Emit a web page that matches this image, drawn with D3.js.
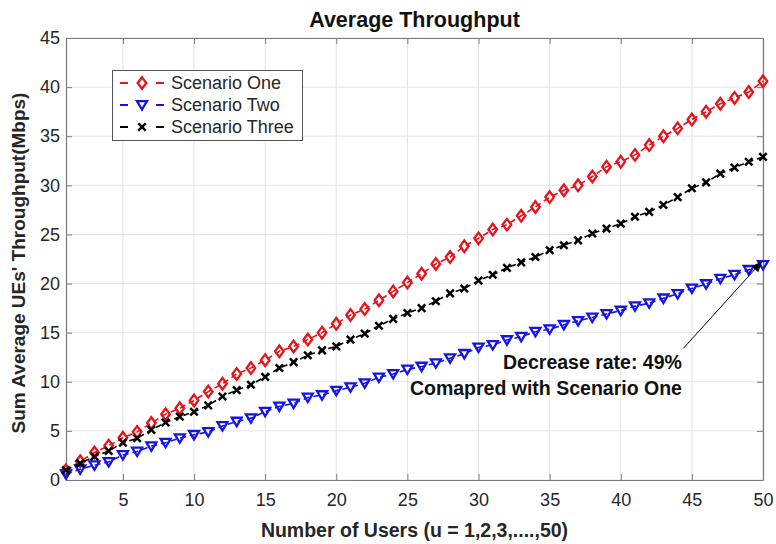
<!DOCTYPE html>
<html>
<head>
<meta charset="utf-8">
<script src="https://cdn.jsdelivr.net/npm/d3@7"></script>
<style>
  body { margin: 0; background: #fff; }
  svg { font-family: "Liberation Sans", Arial, Helvetica, sans-serif; }
</style>
</head>
<body>
<div id="chart"></div>
<script>
// x categories: number of users
const users = d3.range(1, 51)

const scenarioOne = [
    1.0, 1.9, 2.8, 3.5, 4.3, 4.9, 5.8, 6.7, 7.3, 8.1,
    9.0, 9.8, 10.8, 11.4, 12.2, 13.1, 13.6, 14.3, 15.0, 15.9,
    16.8, 17.4, 18.3, 19.2, 20.1, 21.0, 22.0, 22.7, 23.8, 24.6,
    25.5, 26.0, 26.9, 27.8, 28.8, 29.5, 30.0, 30.9, 31.9, 32.4,
    33.1, 34.1, 35.0, 35.8, 36.7, 37.5, 38.3, 38.9, 39.5, 40.6
]
const scenarioTwo = [
    0.6, 1.1, 1.5, 1.85, 2.55, 2.9, 3.45, 3.8, 4.25, 4.6,
    4.9, 5.5, 5.95, 6.3, 6.95, 7.5, 7.8, 8.4, 8.65, 9.1,
    9.45, 9.85, 10.45, 10.8, 11.25, 11.55, 11.9, 12.4, 12.85, 13.5,
    13.75, 14.25, 14.6, 15.1, 15.35, 15.8, 16.2, 16.55, 16.9, 17.25,
    17.7, 18.0, 18.5, 18.95, 19.5, 19.95, 20.5, 20.9, 21.4, 21.9
]
const scenarioThree = [
    1.0, 1.7, 2.4, 2.95, 3.8, 4.25, 5.1, 5.85, 6.45, 6.95,
    7.6, 8.5, 9.15, 9.7, 10.5, 11.4, 12.0, 12.7, 13.2, 13.6,
    14.3, 14.9, 15.7, 16.4, 17.0, 17.5, 18.2, 19.0, 19.5, 20.3,
    20.9, 21.6, 22.15, 22.7, 23.4, 23.9, 24.4, 25.1, 25.6, 26.1,
    26.8, 27.3, 28.0, 28.8, 29.7, 30.3, 31.2, 31.8, 32.4, 32.9
]

const seriesNames = ["Scenario One", "Scenario Two", "Scenario Three"]
const xTicks = [5, 10, 15, 20, 25, 30, 35, 40, 45, 50]
const yTicks = [0, 5, 10, 15, 20, 25, 30, 35, 40, 45]

// annotation, in data units
const noteLines = ["Decrease rate: 49%", "Comapred with Scenario One"]
const noteAnchor = [44.3, 11.35]
const noteLineGap = 2.7
const arrowFrom = [44.4, 13.4]
const arrowTo = [49.9, 22.2]

const width = 776,
    height = 544,
    margin = { top: 38, right: 13, bottom: 64, left: 66 }

const colors = ["#e8121a", "#1414e6", "#000"]
const markerKind = ["diamond", "triangle", "cross"]

const x = d3.scaleLinear()
    .domain([1, 50])
    .range([margin.left, width - margin.right])
const y = d3.scaleLinear()
    .domain([0, 45])
    .range([height - margin.bottom, margin.top])

const svg = d3.select("#chart").append("svg")
    .attr("width", width)
    .attr("height", height)

svg.append("rect")
    .attr("width", width)
    .attr("height", height)
    .attr("fill", "#fff")

// grid
const grid = svg.append("g").attr("stroke", "#e3e3e3").attr("stroke-width", 1)
grid.selectAll(".gx").data(xTicks).join("line")
    .attr("x1", d => x(d)).attr("x2", d => x(d))
    .attr("y1", y(45)).attr("y2", y(0))
grid.selectAll(".gy").data(yTicks).join("line")
    .attr("x1", x(1)).attr("x2", x(50))
    .attr("y1", d => y(d)).attr("y2", d => y(d))

const tickColor = "#262626"

// axes (MATLAB style box with inner ticks)
const xAxis = g => g
    .attr("transform", `translate(0,${y(0)})`)
    .call(d3.axisBottom(x).tickValues(xTicks).tickSizeInner(-6).tickSizeOuter(0).tickPadding(13))
const xTop = g => g
    .attr("transform", `translate(0,${y(45)})`)
    .call(d3.axisTop(x).tickValues(xTicks).tickSizeInner(-6).tickSizeOuter(0).tickFormat(""))
const yAxis = g => g
    .attr("transform", `translate(${x(1)},0)`)
    .call(d3.axisLeft(y).tickValues(yTicks).tickSizeInner(-6).tickSizeOuter(0).tickPadding(6))
const yRight = g => g
    .attr("transform", `translate(${x(50)},0)`)
    .call(d3.axisRight(y).tickValues(yTicks).tickSizeInner(-6).tickSizeOuter(0).tickFormat(""))

for (const ax of [xAxis, xTop, yAxis, yRight]) {
    svg.append("g").call(ax)
        .call(g => g.selectAll(".domain").attr("stroke", "#7a7a7a").attr("stroke-width", 1.2))
        .call(g => g.selectAll(".tick line").attr("stroke", "#7a7a7a"))
        .call(g => g.selectAll(".tick text")
            .attr("fill", tickColor)
            .style("font-size", "18px"))
}

// markers
function marker(sel, kind, color) {
    if (kind === "diamond") {
        sel.append("path").attr("d", "M0,-5.8L4.3,0L0,5.8L-4.3,0Z")
            .attr("fill", "none").attr("stroke", color).attr("stroke-width", 2.3)
    } else if (kind === "triangle") {
        sel.append("path").attr("d", "M-5,-3.8L5,-3.8L0,4.6Z")
            .attr("fill", "none").attr("stroke", color).attr("stroke-width", 2.3)
    } else {
        sel.append("path").attr("d", "M-3.7,-3.7L3.7,3.7M-3.7,3.7L3.7,-3.7")
            .attr("fill", "none").attr("stroke", color).attr("stroke-width", 2.5)
    }
}

const series = [scenarioOne, scenarioTwo, scenarioThree]
const line = d3.line().x((d, i) => x(users[i])).y(d => y(d))

series.forEach((vals, k) => {
    const g = svg.append("g")
    g.append("path")
        .attr("d", line(vals))
        .attr("fill", "none")
        .attr("stroke", colors[k])
        .attr("stroke-width", 1.6)
        .attr("stroke-dasharray", "6,4")
    g.selectAll("g").data(vals).join("g")
        .attr("transform", (d, i) => `translate(${x(users[i])},${y(d)})`)
        .each(function () { marker(d3.select(this), markerKind[k], colors[k]) })
})

// legend
const legend = svg.append("g")
legend.append("rect")
    .attr("x", 112.5).attr("y", 70.5)
    .attr("width", 190).attr("height", 70)
    .attr("fill", "#fff").attr("stroke", "#555").attr("stroke-width", 1)
seriesNames.forEach((name, k) => {
    const ly = 83 + k * 22
    const row = legend.append("g")
    row.append("line").attr("x1", 120).attr("x2", 164).attr("y1", ly).attr("y2", ly)
        .attr("stroke", colors[k]).attr("stroke-width", 1.8).attr("stroke-dasharray", "8,28")
    row.append("line").attr("x1", 156).attr("x2", 164).attr("y1", ly).attr("y2", ly)
        .attr("stroke", colors[k]).attr("stroke-width", 1.8)
    row.append("g").attr("transform", `translate(142,${ly})`)
        .call(s => marker(s, markerKind[k], colors[k]))
    row.append("text").attr("x", 171).attr("y", ly).attr("dy", "0.35em")
        .attr("fill", tickColor).style("font-size", "18px").text(name)
})

// annotation
svg.append("defs").append("marker")
    .attr("id", "arrow").attr("viewBox", "0 0 10 10")
    .attr("refX", 9).attr("refY", 5)
    .attr("markerWidth", 11).attr("markerHeight", 11)
    .attr("markerUnits", "userSpaceOnUse")
    .attr("orient", "auto")
    .append("path").attr("d", "M0,1L10,5L0,9Z").attr("fill", "#000")
svg.append("line")
    .attr("x1", x(arrowFrom[0])).attr("y1", y(arrowFrom[1]))
    .attr("x2", x(arrowTo[0])).attr("y2", y(arrowTo[1]))
    .attr("stroke", "#000").attr("stroke-width", 1)
    .attr("marker-end", "url(#arrow)")
noteLines.forEach((t, i) => {
    svg.append("text")
        .attr("x", x(noteAnchor[0]))
        .attr("y", y(noteAnchor[1] - i * noteLineGap))
        .attr("text-anchor", "end")
        .style("font-size", "19.5px").style("font-weight", "bold")
        .attr("fill", "#111")
        .text(t)
})

// titles
svg.append("text")
    .attr("x", (x(1) + x(50)) / 2).attr("y", 27)
    .attr("text-anchor", "middle")
    .style("font-size", "21.5px").style("font-weight", "bold")
    .attr("fill", "#111")
    .text("Average Throughput")
svg.append("text")
    .attr("x", (x(1) + x(50)) / 2).attr("y", 537)
    .attr("text-anchor", "middle")
    .style("font-size", "19.5px").style("font-weight", "bold")
    .attr("fill", tickColor)
    .text("Number of Users (u = 1,2,3,....,50)")
svg.append("text")
    .attr("transform", `translate(25,${(y(0) + y(45)) / 2 + 4}) rotate(-90)`)
    .attr("text-anchor", "middle")
    .style("font-size", "19px").style("font-weight", "bold")
    .attr("fill", tickColor)
    .text("Sum Average UEs' Throughput(Mbps)")
</script>
</body>
</html>
